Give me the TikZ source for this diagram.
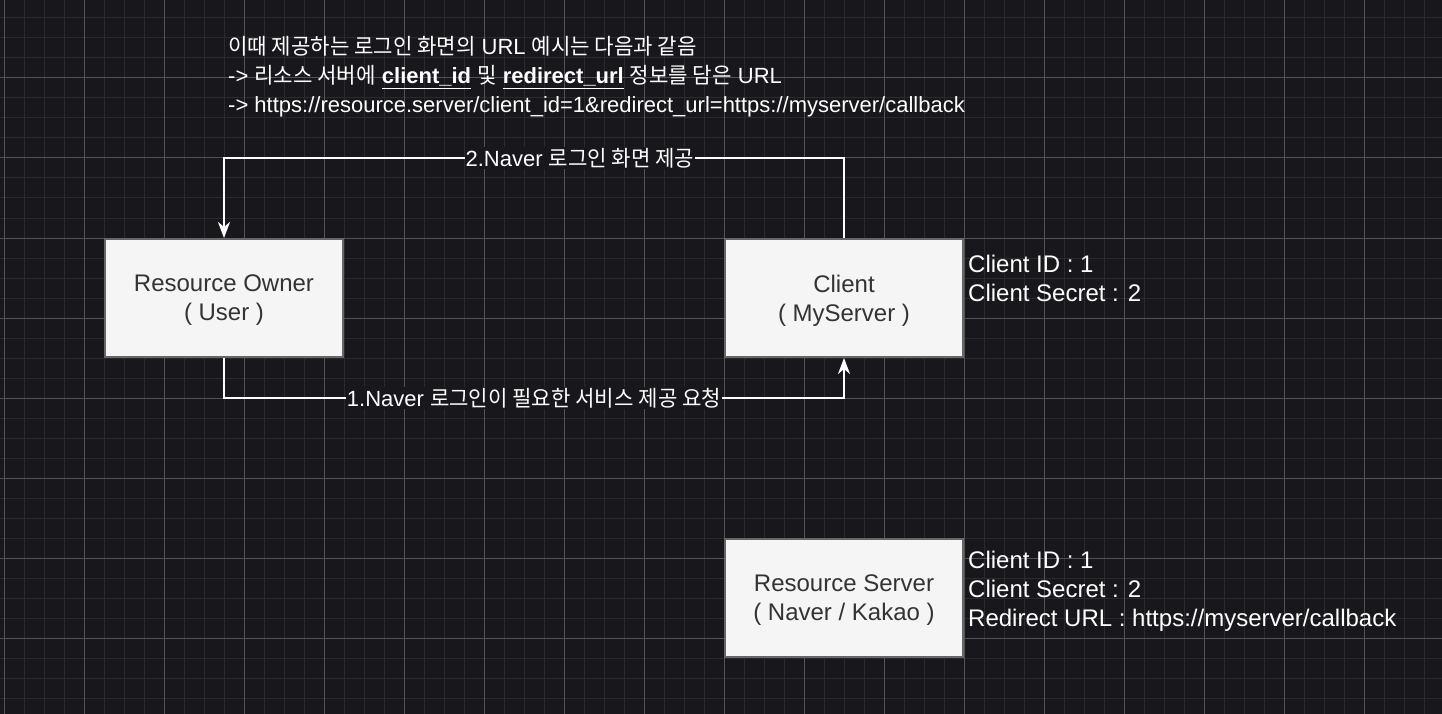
\documentclass[tikz,border=0pt]{standalone}
\usepackage{fontspec}
\setmainfont{Liberation Sans}
\newfontfamily\hangulfont[FakeStretch=0.96]{Noto Sans CJK KR}
\newcommand\kor[1]{{\hangulfont #1}}
\usetikzlibrary{arrows.meta}
\definecolor{canvas}{RGB}{24,23,28}
\definecolor{minorline}{RGB}{42,42,47}
\definecolor{majorline}{RGB}{82,82,88}
\definecolor{boxfill}{RGB}{245,245,245}
\definecolor{boxline}{RGB}{102,102,102}
\definecolor{boxtext}{RGB}{51,51,51}
\tikzset{
  box/.style={draw=boxline, fill=boxfill, line width=2pt, minimum width=238pt,
    minimum height=118pt, text=boxtext, align=center, text depth=0pt,
    font=\fontsize{24}{29}\selectfont},
  flow/.style={draw=white, line width=2pt,
    -{Stealth[length=16pt,width=12pt,inset=5pt]}},
  edgelabel/.style={fill=canvas, text=white, inner sep=1pt,
    font=\fontsize{22}{26}\selectfont},
  note/.style={text=white, align=left, inner sep=0pt,
    font=\fontsize{24}{29}\selectfont},
  topnote/.style={note, font=\fontsize{22}{29}\selectfont}
}
\begin{document}
\begin{tikzpicture}[x=1pt, y=-1pt]
  \fill[canvas] (0,0) rectangle (1442,714);
  \useasboundingbox (0,0) rectangle (1442,714);
  % grid
  \foreach \x in {4,24,...,1424} \draw[minorline, line width=1pt] (\x,0) -- (\x,714);
  \foreach \y in {18,38,...,698} \draw[minorline, line width=1pt] (0,\y) -- (1442,\y);
  \foreach \x in {4,84,...,1364} \draw[majorline, line width=1pt] (\x,0) -- (\x,714);
  \foreach \y in {78,158,...,638} \draw[majorline, line width=1pt] (0,\y) -- (1442,\y);

  \node[box] (owner) at (224,298) {Resource Owner\\( User )};
  \node[box] (client) at (844,298) {Client\\( MyServer )};
  \node[box] (server) at (844,598) {Resource Server\\( Naver / Kakao )};

  \node[note, anchor=west] (clientinfo) at (968,278)
    {Client ID : 1\\Client Secret : 2};
  \node[note, anchor=west] (serverinfo) at (968,591)
    {Client ID : 1\\Client Secret : 2\\Redirect URL : https://myserver/callback};

  \node[topnote, anchor=west] (urlnote) at (228,77)
    {\kor{이때 제공하는 로그인 화면의} URL \kor{예시는 다음과 같음}\\
     -> \kor{리소스 서버에} \underline{\textbf{client\_id}} \kor{및}
     \underline{\textbf{redirect\_url}} \kor{정보를 담은} URL\\
     -> https://resource.server/client\_id=1\&redirect\_url=https://myserver/callback};

  \draw[flow] (owner.south) -- ++(0,40) -|
    node[pos=0.25, edgelabel] {1.Naver \kor{로그인이 필요한 서비스 제공 요청}} (client.south);
  \draw[flow] (client.north) -- ++(0,-80) -|
    node[pos=0.213, edgelabel] {2.Naver \kor{로그인 화면 제공}} (owner.north);
\end{tikzpicture}
\end{document}
